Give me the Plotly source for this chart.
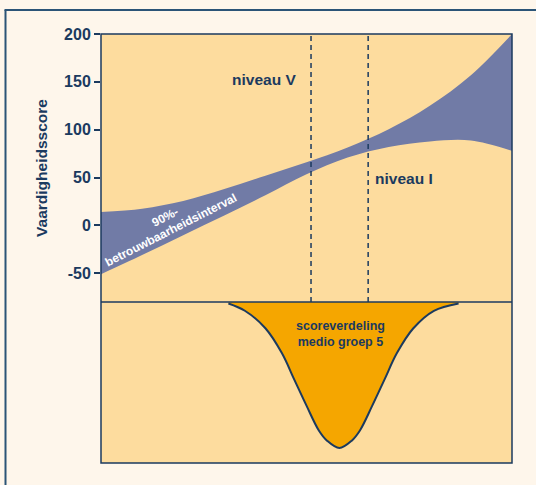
import plotly.graph_objects as go

# ---- data ----
band_x = [0, 10, 20, 30, 40, 50, 60, 70, 80, 90, 100]
band_upper = [14, 17.5, 25.5, 38, 52, 66, 81.5, 100.5, 125, 157, 200]
band_lower = [-51, -31, -10.2, 10.3, 31.5, 53.5, 71, 82, 87.8, 88.8, 78]

bell_x = [31, 35, 40, 44, 47, 50, 53, 55, 58, 61, 63, 66, 69, 72, 76, 81, 87]
bell_depth = [0.01, 0.06, 0.18, 0.35, 0.53, 0.71, 0.88, 0.95, 1.0, 0.95, 0.88, 0.71, 0.53, 0.35, 0.18, 0.06, 0.01]

level_x = [51.1, 65.0]
y_ticks = [-50, 0, 50, 100, 150, 200]
y_ticktext = ["-50", "0", "50", "100", "150", "200"]

NAVY = "#1B3A5F"
PLOT_BG = "#FDDC9E"
BAND = "#717BA6"
BELL = "#F5A600"
PAGE_BG = "#FEF6EB"
FONT = "Liberation Sans"

split = 161 / 429  # lower panel fraction

fig = go.Figure()
fig.add_trace(go.Scatter(x=band_x, y=band_lower, mode="lines",
                         line=dict(width=0, shape="spline", smoothing=1, color=BAND),
                         hoverinfo="skip", showlegend=False))
fig.add_trace(go.Scatter(x=band_x, y=band_upper, mode="lines",
                         line=dict(width=0, shape="spline", smoothing=1, color=BAND),
                         fill="tonexty", fillcolor=BAND, hoverinfo="skip", showlegend=False))
fig.add_trace(go.Scatter(x=bell_x, y=[-d for d in bell_depth], mode="lines", yaxis="y2",
                         line=dict(width=2, shape="spline", color=NAVY),
                         fill="tozeroy", fillcolor=BELL, hoverinfo="skip", showlegend=False))

shapes = []
# plot box and separator
shapes.append(dict(type="rect", xref="paper", yref="paper", x0=0, x1=1, y0=0, y1=1,
                   line=dict(color=NAVY, width=1.5), layer="above"))
shapes.append(dict(type="line", xref="paper", yref="paper", x0=0, x1=1, y0=split, y1=split,
                   line=dict(color=NAVY, width=1.5), layer="above"))
# dashed level lines
for lx in level_x:
    shapes.append(dict(type="line", xref="x", yref="paper", x0=lx, x1=lx, y0=split, y1=1,
                       line=dict(color=NAVY, width=1.5, dash="5px,4px"), layer="above"))
# outer frame (left and top only visible)
px = lambda v: (v - 101) / 411
py = lambda v: (463 - v) / 429
shapes.append(dict(type="line", xref="paper", yref="paper", x0=px(5.5), x1=px(5.5), y0=py(10), y1=py(500),
                   line=dict(color="#2B5477", width=2)))
shapes.append(dict(type="line", xref="paper", yref="paper", x0=px(4.5), x1=px(560), y0=py(10), y1=py(10),
                   line=dict(color="#2B5477", width=2)))

annotations = [
    dict(x=39.7, y=152, xref="x", yref="y", text="niveau V", showarrow=False,
         font=dict(family=FONT, size=15.5, color=NAVY, weight="bold")),
    dict(x=73.7, y=49.5, xref="x", yref="y", text="niveau I", showarrow=False,
         font=dict(family=FONT, size=15.5, color=NAVY, weight="bold")),
    dict(x=15.6, y=9, xref="x", yref="y", text="90%-", showarrow=False, textangle=-27,
         font=dict(family=FONT, size=12, color="white", weight="bold")),
    dict(x=17.0, y=-5, xref="x", yref="y", text="betrouwbaarheidsinterval", showarrow=False, textangle=-27,
         font=dict(family=FONT, size=12, color="white", weight="bold")),
    dict(x=58.2, y=-0.22, xref="x", yref="y2", text="scoreverdeling<br>medio groep 5", showarrow=False,
         font=dict(family=FONT, size=12.5, color=NAVY, weight="bold")),
]

fig.update_layout(
    width=536, height=485,
    margin=dict(l=101, r=24, t=34, b=22),
    paper_bgcolor=PAGE_BG, plot_bgcolor=PLOT_BG,
    xaxis=dict(range=[0, 100], showgrid=False, zeroline=False, showticklabels=False, ticks="", showline=False),
    yaxis=dict(domain=[split, 1], range=[-80, 200], tickvals=y_ticks, ticktext=y_ticktext,
               ticks="outside", ticklen=6, tickwidth=1.5, tickcolor=NAVY,
               showgrid=False, zeroline=False, showline=False,
               tickfont=dict(family=FONT, size=16, color=NAVY, weight="bold"),
               title=dict(text="Vaardigheidsscore", standoff=12,
                          font=dict(family=FONT, size=15.5, color=NAVY, weight="bold"))),
    yaxis2=dict(domain=[0, split], range=[-1.103, 0], anchor="x", showgrid=False, zeroline=False,
                showticklabels=False, ticks="", showline=False),
    shapes=shapes, annotations=annotations,
)

fig.write_html("out.html", config={"displayModeBar": False},
               post_script="document.body.style.margin='0';document.body.style.padding='0';"
                           "document.body.style.background='" + PAGE_BG + "';")
